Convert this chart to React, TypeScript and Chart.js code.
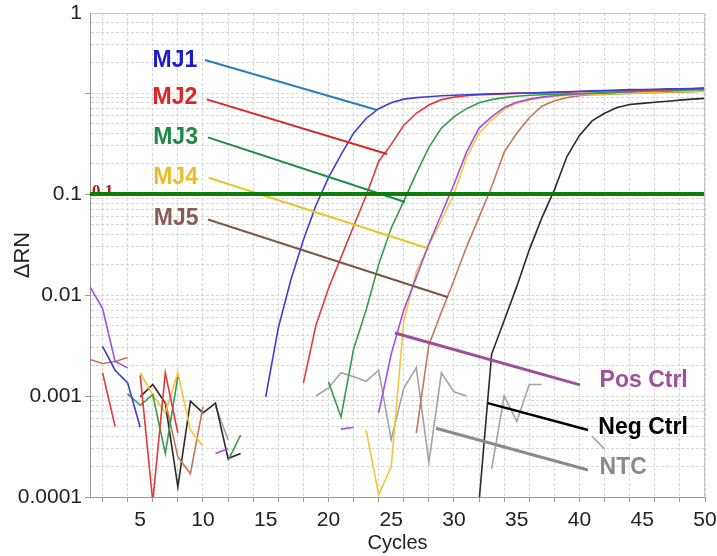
import React, { useEffect, useRef } from 'react';
import { Chart, registerables } from 'chart.js';

Chart.register(...registerables);

const N = null;

const cycles = [1, 2, 3, 4, 5, 6, 7, 8, 9, 10, 11, 12, 13, 14, 15, 16, 17, 18, 19, 20, 21, 22, 23, 24, 25, 26, 27, 28, 29, 30, 31, 32, 33, 34, 35, 36, 37, 38, 39, 40, 41, 42, 43, 44, 45, 46, 47, 48, 49, 50];

const mj1 = [N, 0.0031, 0.0018, 0.00135, 0.00049, N, N, N, N, N, N, N, N, N, 0.00098, 0.0047, 0.0141, 0.035, 0.077, 0.145, 0.245, 0.40, 0.56, 0.70, 0.80, 0.87, 0.90, 0.92, 0.94, 0.95, 0.96, 0.97, 0.98, 0.99, 1.0, 1.0, 1.01, 1.02, 1.03, 1.04, 1.05, 1.06, 1.07, 1.08, 1.08, 1.09, 1.10, 1.10, 1.11, 1.12];
const mj2 = [N, 0.0017, 0.0005, N, 0.0016, 0.00009, 0.0017, 0.00043, N, N, N, N, N, N, N, N, N, 0.00134, 0.0050, 0.0116, 0.0236, 0.048, 0.096, 0.21, 0.31, 0.48, 0.63, 0.76, 0.86, 0.91, 0.94, 0.96, 0.97, 0.98, 0.99, 1.0, 1.0, 1.01, 1.02, 1.03, 1.04, 1.05, 1.05, 1.06, 1.07, 1.07, 1.08, 1.09, 1.09, 1.10];
const mj3 = [N, N, N, 0.00105, 0.00081, 0.00103, 0.00027, 0.00155, N, N, N, 0.00023, 0.00041, N, N, N, N, N, N, 0.00138, 0.00062, 0.0029, 0.0071, 0.020, 0.046, 0.085, 0.16, 0.29, 0.45, 0.58, 0.70, 0.80, 0.86, 0.90, 0.93, 0.95, 0.96, 0.97, 0.98, 0.99, 1.0, 1.01, 1.02, 1.03, 1.04, 1.05, 1.05, 1.06, 1.07, 1.08];
const mj4 = [N, N, N, N, 0.0017, 0.00103, 0.00068, 0.0017, 0.00046, 0.00032, N, N, N, N, N, N, N, N, N, N, N, N, 0.00046, 0.000105, 0.0002, 0.0055, 0.017, 0.031, 0.055, 0.10, 0.23, 0.40, 0.54, 0.69, 0.79, 0.85, 0.90, 0.93, 0.95, 0.96, 0.97, 0.98, 0.99, 1.0, 1.01, 1.02, 1.03, 1.03, 1.04, 1.05];
const mj5 = [0.0023, 0.0021, 0.0022, 0.0024, N, N, 0.00089, 0.00025, 0.00017, 0.00078, N, N, N, N, N, N, N, N, N, N, N, N, N, N, N, N, 0.00043, 0.0032, 0.0068, 0.014, 0.030, 0.059, 0.118, 0.26, 0.40, 0.57, 0.74, 0.84, 0.90, 0.94, 0.96, 0.97, 0.98, 0.99, 1.0, 1.01, 1.02, 1.02, 1.03, 1.04];
const posCtrl = [0.012, 0.0074, 0.0022, 0.0019, N, N, N, N, N, N, 0.00027, 0.0003, N, N, N, N, N, N, N, N, 0.00047, 0.00049, N, 0.00068, 0.0026, 0.0071, 0.015, 0.032, 0.063, 0.125, 0.26, 0.45, 0.58, 0.72, 0.81, 0.87, 0.91, 0.94, 0.96, 0.98, 0.99, 1.0, 1.02, 1.03, 1.05, 1.06, 1.07, 1.08, 1.10, 1.12];
const negCtrl = [N, N, N, N, 0.00098, 0.0013, 0.00085, 0.000126, 0.00089, 0.00068, 0.00085, 0.00024, 0.00027, N, N, N, N, N, N, N, N, N, N, N, N, N, N, N, N, N, N, 0.00009, 0.0026, 0.0056, 0.0121, 0.028, 0.058, 0.11, 0.235, 0.38, 0.53, 0.63, 0.72, 0.77, 0.79, 0.81, 0.83, 0.85, 0.87, 0.885];
const ntc = [N, N, N, N, N, N, N, N, N, N, 0.0008, 0.00037, N, N, N, N, N, N, 0.001, 0.0012, 0.0017, 0.00155, 0.0014, 0.0018, 0.00037, 0.0012, 0.0019, 0.00022, 0.0017, 0.0011, 0.001, N, 0.00019, 0.001, 0.00056, 0.0013, 0.0013, N, N, N, 0.0004, 0.0003, N, N, N, N, N, N, N, N];

const seriesNames = ['NTC', 'Neg Ctrl', 'MJ5', 'MJ4', 'Pos Ctrl', 'MJ3', 'MJ2', 'MJ1'];
const seriesValues = [ntc, negCtrl, mj5, mj4, posCtrl, mj3, mj2, mj1];
const seriesColors = ['#a3a3a3', '#2a2a2a', '#c27a55', '#f3c63c', '#a14fe3', '#3a9c4a', '#e23a3a', '#3d3dd4'];

const threshold = 0.1;
const thresholdLabel = '0.1';
const thresholdLabelX = 1.16;
const thresholdLabelY = 0.0955;

const leaderNames = ['MJ1', 'MJ2', 'MJ3', 'MJ4', 'MJ5', 'Pos Ctrl', 'Neg Ctrl', 'NTC'];
const leaderStartX = [10.16, 10.3, 10.4, 10.45, 10.4, 25.3, 32.7, 28.57];
const leaderStartY = [2.12, 0.866, 0.364, 0.145, 0.056, 0.0042, 0.00085, 0.00048];
const leaderEndX = [23.87, 24.67, 26.1, 27.85, 29.53, 40.04, 40.68, 40.68];
const leaderEndY = [0.68, 0.249, 0.0834, 0.0292, 0.0095, 0.00129, 0.00046, 0.000185];
const leaderColors = ['#2e7ebc', '#d42a2a', '#1e8a45', '#e8c52a', '#7d5648', '#9c4f9a', '#000000', '#8a8a8a'];
const leaderWidths = [2, 2, 2, 2, 2, 3, 2.5, 3];

const labelX = [9.55, 9.55, 9.6, 9.6, 9.65, 41.6, 41.5, 41.6];
const labelY = [2.07, 0.9, 0.363, 0.146, 0.0565, 0.00141, 0.00049, 0.000194];
const labelAlign = ['right', 'right', 'right', 'right', 'right', 'left', 'left', 'left'];
const labelColors = ['#1c1cc8', '#e02424', '#1d8a46', '#e9bd2a', '#8a5c52', '#9c4f9a', '#000000', '#8a8a8a'];

const xTickValues = [2, 4, 5, 6, 8, 10, 12, 14, 15, 16, 18, 20, 22, 24, 25, 26, 28, 30, 32, 34, 35, 36, 38, 40, 42, 44, 45, 46, 48, 50];
const xTickLabels = [5, 10, 15, 20, 25, 30, 35, 40, 45, 50];

const yTickValues = [0.0001, 0.001, 0.01, 0.1];
const yTickLabels = ['0.0001', '0.001', '0.01', '0.1'];
const yTopLabel = '1';
const yMin = 0.0001;
const yTop = 6.2;

function buildYGrid(): number[] {
  const out: number[] = [];
  for (let d = -4; d <= 0; d++) {
    for (let k = 1; k <= 9; k++) {
      const v = k * Math.pow(10, d);
      if (v < yTop * 0.95) out.push(v);
    }
  }
  out.push(yTop);
  return out;
}

function isDecade(v: number) {
  const l = Math.log10(v);
  return Math.abs(l - Math.round(l)) < 1e-6;
}

const annotationPlugin = {
  id: 'annotations',
  beforeDatasetsDraw(chart: any) {
    const { ctx, scales } = chart;
    const x = scales.x.getPixelForValue(thresholdLabelX);
    const y = scales.y.getPixelForValue(thresholdLabelY);
    ctx.save();
    ctx.font = 'bold 17px "Liberation Serif", serif';
    ctx.fillStyle = '#b01c1c';
    ctx.textAlign = 'left';
    ctx.textBaseline = 'alphabetic';
    ctx.fillText(thresholdLabel, x, y);
    ctx.restore();
  },
  afterDatasetsDraw(chart: any) {
    const { ctx, scales, chartArea } = chart;
    ctx.save();
    ctx.strokeStyle = '#c4c4c4';
    ctx.lineWidth = 1;
    ctx.beginPath();
    ctx.moveTo(chartArea.left, chartArea.top + 0.5);
    ctx.lineTo(chartArea.right - 0.5, chartArea.top + 0.5);
    ctx.lineTo(chartArea.right - 0.5, chartArea.bottom);
    ctx.stroke();
    ctx.font = 'bold 23px "Liberation Sans", Arial, sans-serif';
    ctx.textBaseline = 'middle';
    leaderNames.forEach((name, i) => {
      ctx.fillStyle = labelColors[i];
      ctx.textAlign = labelAlign[i] as CanvasTextAlign;
      ctx.fillText(name, scales.x.getPixelForValue(labelX[i]), scales.y.getPixelForValue(labelY[i]));
    });
    ctx.restore();
  },
};

export default function App() {
  const ref = useRef<HTMLCanvasElement>(null);

  useEffect(() => {
    if (!ref.current) return;
    Chart.defaults.font.family = '"Liberation Sans", Arial, sans-serif';

    const leaderSets = leaderNames.map((name, i) => ({
      label: name + ' leader',
      data: [
        { x: leaderStartX[i], y: leaderStartY[i] },
        { x: leaderEndX[i], y: leaderEndY[i] },
      ],
      borderColor: leaderColors[i],
      borderWidth: leaderWidths[i],
      pointRadius: 0,
      tension: 0,
    }));

    const thresholdSet = {
      label: 'Threshold',
      data: [
        { x: cycles[0], y: threshold },
        { x: cycles[cycles.length - 1], y: threshold },
      ],
      borderColor: '#0b7d0b',
      borderWidth: 4,
      pointRadius: 0,
      tension: 0,
    };

    const curveSets = seriesNames.map((name, i) => ({
      label: name,
      data: cycles.map((c, j) => ({ x: c, y: seriesValues[i][j] })),
      borderColor: seriesColors[i],
      borderWidth: 1.6,
      pointRadius: 0,
      tension: 0,
      spanGaps: false,
    }));

    const gridCol = '#d6d6d6';
    const yGrid = buildYGrid();

    const chart = new Chart(ref.current, {
      type: 'line',
      data: {
        datasets: [thresholdSet, ...leaderSets, ...curveSets.reverse()] as any,
      },
      options: {
        animation: false,
        responsive: false,
        layout: { padding: { top: 13, right: 12, left: 0, bottom: 0 } },
        plugins: {
          legend: { display: false },
          tooltip: { enabled: false },
        },
        scales: {
          x: {
            type: 'linear',
            min: cycles[0],
            max: cycles[cycles.length - 1],
            afterBuildTicks: (s: any) => {
              s.ticks = xTickValues.map((v) => ({ value: v }));
            },
            afterFit: (s: any) => {
              s.height = 59;
              s.paddingRight = 0;
              s.paddingLeft = 0;
            },
            ticks: {
              autoSkip: false,
              maxRotation: 0,
              padding: 6,
              color: '#222',
              font: { size: 21 },
              callback: (v: any) => (xTickLabels.includes(Number(v)) ? String(v) : ''),
            },
            grid: {
              color: (c: any) => (c.tick && c.tick.value % 2 === 0 ? gridCol : 'rgba(0,0,0,0)'),
              tickColor: (c: any) => (c.tick && c.tick.value % 2 === 0 ? '#999' : 'rgba(0,0,0,0)'),
              tickLength: 5,
              lineWidth: 1,
            },
            border: { color: '#999', dash: [3, 2] },
            title: {
              display: true,
              text: 'Cycles',
              color: '#222',
              font: { size: 20 },
              padding: { top: 0, bottom: 1 },
            },
          },
          y: {
            type: 'logarithmic',
            min: yMin,
            max: yTop,
            afterBuildTicks: (s: any) => {
              s.ticks = yGrid.map((v) => ({ value: v }));
            },
            afterFit: (s: any) => {
              s.width = 90;
              s.paddingTop = 0;
              s.paddingBottom = 0;
            },
            ticks: {
              autoSkip: false,
              padding: 3,
              color: '#222',
              font: { size: 21 },
              callback: (v: any) => {
                const n = Number(v);
                if (Math.abs(n - yTop) < 1e-9) return yTopLabel;
                const idx = yTickValues.findIndex((t) => Math.abs(n / t - 1) < 1e-6);
                return idx >= 0 ? yTickLabels[idx] : '';
              },
            },
            grid: {
              color: (c: any) => (c.tick ? gridCol : 'rgba(0,0,0,0)'),
              tickColor: (c: any) => (c.tick && isDecade(c.tick.value) ? '#999' : 'rgba(0,0,0,0)'),
              tickLength: 5,
              lineWidth: 1,
            },
            border: { color: '#999', dash: [3, 2] },
            title: {
              display: true,
              text: 'ΔRN',
              color: '#222',
              font: { size: 22 },
              padding: { top: 10, bottom: 0 },
            },
          },
        },
      },
      plugins: [annotationPlugin],
    } as any);

    return () => chart.destroy();
  }, []);

  return (
    <div style={{ position: 'absolute', left: 0, top: 0, width: 717, height: 556, background: '#fff' }}>
      <canvas ref={ref} width={717} height={556} />
    </div>
  );
}
